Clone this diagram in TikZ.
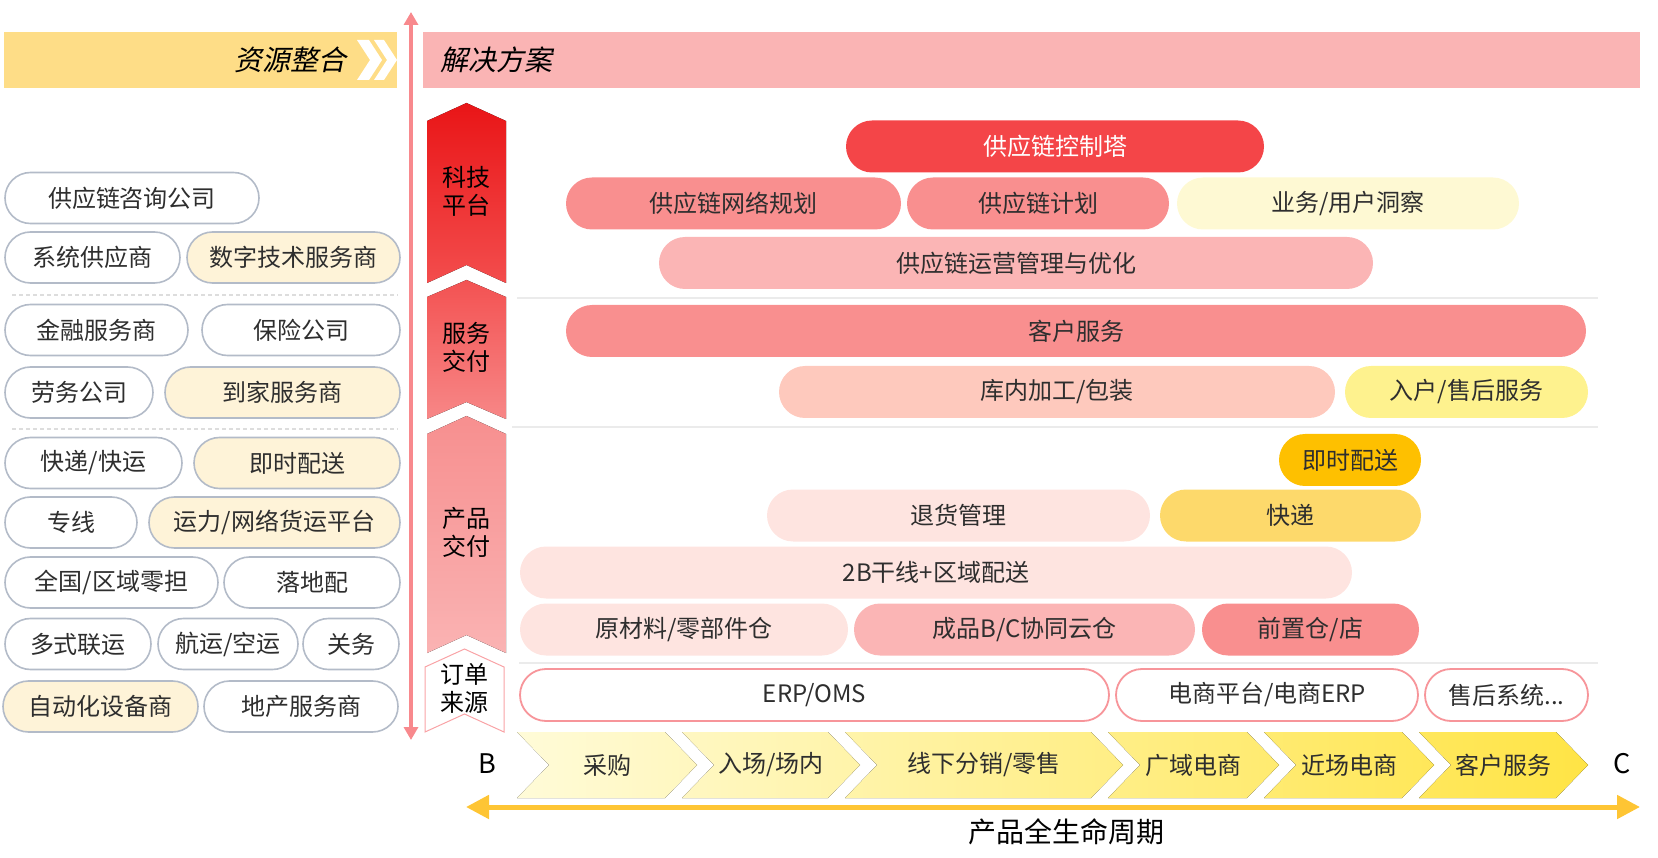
\documentclass[tikz,border=0pt]{standalone}
\usepackage{fontspec}
\setmainfont{Noto Sans CJK SC}
\newfontfamily\slantcjk[FakeSlant=0.2]{Noto Sans CJK SC}
\usetikzlibrary{arrows.meta}

\definecolor{resyellow}{HTML}{FEDD87}
\definecolor{solpink}{HTML}{FAB4B4}
\definecolor{axisred}{HTML}{F8898D}
\definecolor{axisamber}{HTML}{FEC534}
\definecolor{pillgray}{HTML}{B3BBC8}
\definecolor{cream}{HTML}{FEF3D8}
\definecolor{inkgray}{HTML}{2E2E2E}
\definecolor{towerred}{HTML}{F44548}
\definecolor{midred}{HTML}{F98F8F}
\definecolor{softpink}{HTML}{FBB5B5}
\definecolor{peach}{HTML}{FEC9BD}
\definecolor{blush}{HTML}{FEE4E0}
\definecolor{amber}{HTML}{FEC000}
\definecolor{gold}{HTML}{FDD96B}
\definecolor{lemon}{HTML}{FEF28E}
\definecolor{paleyellow}{HTML}{FEF9D3}
\definecolor{erpborder}{HTML}{F7959A}
\definecolor{rowgray}{HTML}{EBEBEB}
\definecolor{dashgray}{HTML}{DDDDDD}
\definecolor{flowA}{HTML}{FFFBD8}
\definecolor{flowB}{HTML}{FFE445}
\definecolor{techtop}{HTML}{E91517}
\definecolor{techbot}{HTML}{F34D4D}
\definecolor{servtop}{HTML}{F35252}
\definecolor{servbot}{HTML}{F78787}
\definecolor{prodtop}{HTML}{F78F8F}
\definecolor{prodbot}{HTML}{FAB3B3}
\definecolor{orderline}{HTML}{F9A3A6}

\tikzset{
    partner/.style={draw=pillgray, line width=1.6pt, fill=white, rounded corners=25.5pt,
        minimum height=51pt, inner sep=0pt, text=inkgray, font=\fontsize{24}{28}\selectfont},
    solution/.style={rounded corners=26pt, minimum height=52pt, inner sep=0pt,
        text=inkgray, font=\fontsize{24}{28}\selectfont},
    system/.style={solution, draw=erpborder, line width=1.8pt, fill=white, minimum height=52pt},
    layer/.style={text=black, align=center, font=\fontsize{24}{28}\selectfont},
    stage/.style={text=inkgray, font=\fontsize{24}{28}\selectfont},
    rowline/.style={rowgray, line width=2pt},
    groupline/.style={dashgray, line width=1.2pt, dash pattern=on 4pt off 3pt},
    bigtitle/.style={text=black, font=\slantcjk\fontsize{28}{32}\selectfont},
}

\begin{document}
\begin{tikzpicture}[x=1pt,y=-1pt]
        \useasboundingbox (0,0) rectangle (1658,858);
        \fill[resyellow] (4,32) rectangle (397,88);
        \fill[white] (357,40) -- (369,40) -- (382,60) -- (369,80) -- (357,80) -- (370,60) -- cycle;
        \fill[white] (374,40) -- (384,40) -- (397,60) -- (384,80) -- (374,80) -- (387,60) -- cycle;
        \node[bigtitle, anchor=east] (restitle) at (350,60) {资源整合};
        \fill[solpink] (423,32) rectangle (1640,88);
        \node[bigtitle, anchor=west] (soltitle) at (437,60) {解决方案};
        \coordinate (vtop) at (411,12);
        \coordinate (vbot) at (411,740);
        \draw[axisred, line width=3.5pt, {Triangle[length=13pt,width=14pt]}-{Triangle[length=13pt,width=14pt]}] (vtop) -- (vbot);
        \draw[groupline] (12,295) -- (398,295);
        \draw[groupline] (12,429) -- (398,429);
        \node[partner, minimum width=254] (consult) at (132,198) {供应链咨询公司};
        \node[partner, minimum width=175] (sysvendor) at (92.5,257.5) {系统供应商};
        \node[partner, minimum width=213, fill=cream] (digital) at (293.5,257.5) {数字技术服务商};
        \node[partner, minimum width=183] (finance) at (96.5,330) {金融服务商};
        \node[partner, minimum width=198] (insure) at (301,330) {保险公司};
        \node[partner, minimum width=148] (labour) at (79,392.5) {劳务公司};
        \node[partner, minimum width=235, fill=cream] (tohome) at (282.5,392.5) {到家服务商};
        \node[partner, minimum width=177] (parcel) at (93.5,463) {快递/快运};
        \node[partner, minimum width=206, fill=cream] (ondemand) at (297,463) {即时配送};
        \node[partner, minimum width=132] (dedicated) at (71,522.5) {专线};
        \node[partner, minimum width=251, fill=cream] (freight) at (274.5,522.5) {运力/网络货运平台};
        \node[partner, minimum width=213] (ltl) at (111.5,582.5) {全国/区域零担};
        \node[partner, minimum width=176] (lastmile) at (312,582.5) {落地配};
        \node[partner, minimum width=146] (multimodal) at (78,644) {多式联运};
        \node[partner, minimum width=140] (seaair) at (228,644) {航运/空运};
        \node[partner, minimum width=96] (customs) at (351,644) {关务};
        \node[partner, minimum width=195, fill=cream] (automation) at (100.5,706.5) {自动化设备商};
        \node[partner, minimum width=194] (realty) at (301,706.5) {地产服务商};
        \fill[top color=techtop, bottom color=techbot] (427,121) -- (466.5,103) -- (506,121) -- (506,283) -- (466.5,265) -- (427,283) -- cycle;
        \fill[top color=servtop, bottom color=servbot] (427,297) -- (466.5,280) -- (506,297) -- (506,419) -- (466.5,402) -- (427,419) -- cycle;
        \fill[top color=prodtop, bottom color=prodbot] (427,434) -- (466.5,416) -- (506,434) -- (506,653) -- (466.5,635) -- (427,653) -- cycle;
        \draw[orderline, fill=white, line width=1pt] (425,667) -- (464.5,649) -- (504,667) -- (504,732) -- (464.5,714) -- (425,732) -- cycle;
        \node[layer] (tech) at (466.5,191) {科技\\平台};
        \node[layer] (servdel) at (466.5,347.5) {服务\\交付};
        \node[layer] (proddel) at (466.5,532.5) {产品\\交付};
        \node[layer] (ordersrc) at (464.5,688.5) {订单\\来源};
        \draw[rowline] (517,298) -- (1598,298);
        \draw[rowline] (512,427) -- (1598,427);
        \draw[rowline] (519,663) -- (1598,663);
        \node[solution, fill=towerred, text=white, minimum width=418] (tower) at (1055,146.5) {供应链控制塔};
        \node[solution, fill=midred, minimum width=335] (netplan) at (733.5,203.5) {供应链网络规划};
        \node[solution, fill=midred, minimum width=262] (plan) at (1038,203.5) {供应链计划};
        \node[solution, fill=paleyellow, minimum width=342] (insight) at (1348,203.5) {业务/用户洞察};
        \node[solution, fill=softpink, minimum width=714] (ops) at (1016,263) {供应链运营管理与优化};
        \node[solution, fill=midred, minimum width=1020] (custserv) at (1076,331) {客户服务};
        \node[solution, fill=peach, minimum width=556] (packing) at (1057,392) {库内加工/包装};
        \node[solution, fill=lemon, minimum width=243] (aftersale) at (1466.5,392) {入户/售后服务};
        \node[solution, fill=amber, minimum width=142] (instant) at (1350,460) {即时配送};
        \node[solution, fill=blush, minimum width=383] (returns) at (958.5,515.5) {退货管理};
        \node[solution, fill=gold, minimum width=261] (express) at (1290.5,515.5) {快递};
        \node[solution, fill=blush, minimum width=832] (trunk) at (936,572.5) {2B干线+区域配送};
        \node[solution, fill=blush, minimum width=328] (rawwh) at (684,629.5) {原材料/零部件仓};
        \node[solution, fill=softpink, minimum width=341] (cloudwh) at (1024.5,629.5) {成品B/C协同云仓};
        \node[solution, fill=midred, minimum width=217] (frontwh) at (1310.5,629.5) {前置仓/店};
        \node[system, minimum width=589] (erp) at (814.5,695) {ERP/OMS};
        \node[system, minimum width=302] (ecom) at (1267,695) {电商平台/电商ERP};
        \node[system, minimum width=163] (aftersys) at (1506.5,695) {售后系统...};
        \fill[left color=flowA, right color=flowB!17!flowA] (517,732) -- (665,732) -- (697,765) -- (665,798) -- (517,798) -- (549,765) -- cycle;
        \fill[left color=flowB!15!flowA, right color=flowB!32!flowA] (682,732) -- (828,732) -- (860,765) -- (828,798) -- (682,798) -- (714,765) -- cycle;
        \fill[left color=flowB!31!flowA, right color=flowB!57!flowA] (845,732) -- (1091,732) -- (1123,765) -- (1091,798) -- (845,798) -- (877,765) -- cycle;
        \fill[left color=flowB!55!flowA, right color=flowB!71!flowA] (1108,732) -- (1247,732) -- (1279,765) -- (1247,798) -- (1108,798) -- (1140,765) -- cycle;
        \fill[left color=flowB!70!flowA, right color=flowB!86!flowA] (1264,732) -- (1402,732) -- (1434,765) -- (1402,798) -- (1264,798) -- (1296,765) -- cycle;
        \fill[left color=flowB!84!flowA, right color=flowB] (1419,732) -- (1556,732) -- (1588,765) -- (1556,798) -- (1419,798) -- (1451,765) -- cycle;
        \node[stage] (purchase) at (607,765) {采购};
        \node[stage] (yard) at (771,765) {入场/场内};
        \node[stage] (retail) at (984,765) {线下分销/零售};
        \node[stage] (wideecom) at (1193.5,765) {广域电商};
        \node[stage] (nearecom) at (1349,765) {近场电商};
        \node[stage] (service) at (1503.5,765) {客户服务};
        \node[font=\fontsize{27}{30}\selectfont] (bend) at (487,764) {B};
        \node[font=\fontsize{27}{30}\selectfont] (cend) at (1622,764) {C};
        \coordinate (hleft) at (466,807);
        \coordinate (hright) at (1640,807);
        \draw[axisamber, line width=5pt, {Triangle[length=23pt,width=23pt]}-{Triangle[length=23pt,width=23pt]}] (hleft) -- (hright);
        \node[font=\fontsize{28}{32}\selectfont] (lifecycle) at (1066,832) {产品全生命周期};
    \end{tikzpicture}
\end{document}
